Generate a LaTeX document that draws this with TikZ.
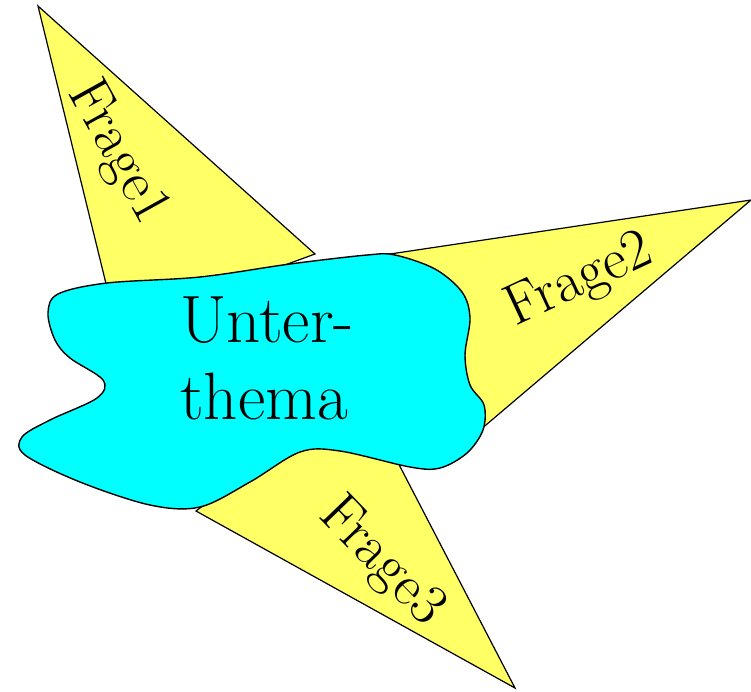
\documentclass[tikz,border=0pt]{standalone}
\definecolor{fyellow}{RGB}{255,255,102}
\definecolor{fcyan}{RGB}{0,255,255}
\begin{document}
\begin{tikzpicture}[x=1pt,y=-1pt,
  tri/.style={fill=fyellow,draw=black,line width=1.2pt,line join=miter},
  blobshape/.style={fill=fcyan,draw=black,line width=1.4pt},
  qlabel/.style={inner sep=0pt,font=\fontsize{58}{70}\selectfont},
  tlabel/.style={inner sep=0pt,anchor=base west,font=\fontsize{67}{77}\selectfont}]
\useasboundingbox (0,0) rectangle (751,691);
% triangles (behind the blob)
\draw[tri] (38,6) -- (315,254) -- (200,296) -- (110,300) -- cycle;
\draw[tri] (751,200) -- (370,257) -- (420,350) -- (460,447) -- cycle;
\draw[tri] (515,688) -- (196,511) -- (230,485) -- (300,430) -- (380,428) -- cycle;
% blob
\draw[blobshape] plot[smooth cycle, tension=0.55] coordinates {
  (48,313) (58,294) (107,283) (200,277) (290,264) (367,255) (395,255)
  (435,269) (462,292) (470,318) (465,355) (470,385) (484,405) (483,430)
  (467,453) (440,468) (410,467) (340,451) (300,452) (250,482) (200,507)
  (150,505) (80,482) (25,455) (22,437) (50,420) (97,398) (103,380)
  (70,358) (55,340)};
% labels
\node[tlabel] (unter) at (180,342) {Unter-};
\node[tlabel] (thema) at (180,419) {thema};
\node[qlabel,rotate=-61] (f1) at (117,153) {Frage1};
\node[qlabel,rotate=25] (f2) at (580,281) {Frage2};
\node[qlabel,rotate=-46] (f3) at (381,562) {Frage3};
\end{tikzpicture}
\end{document}
